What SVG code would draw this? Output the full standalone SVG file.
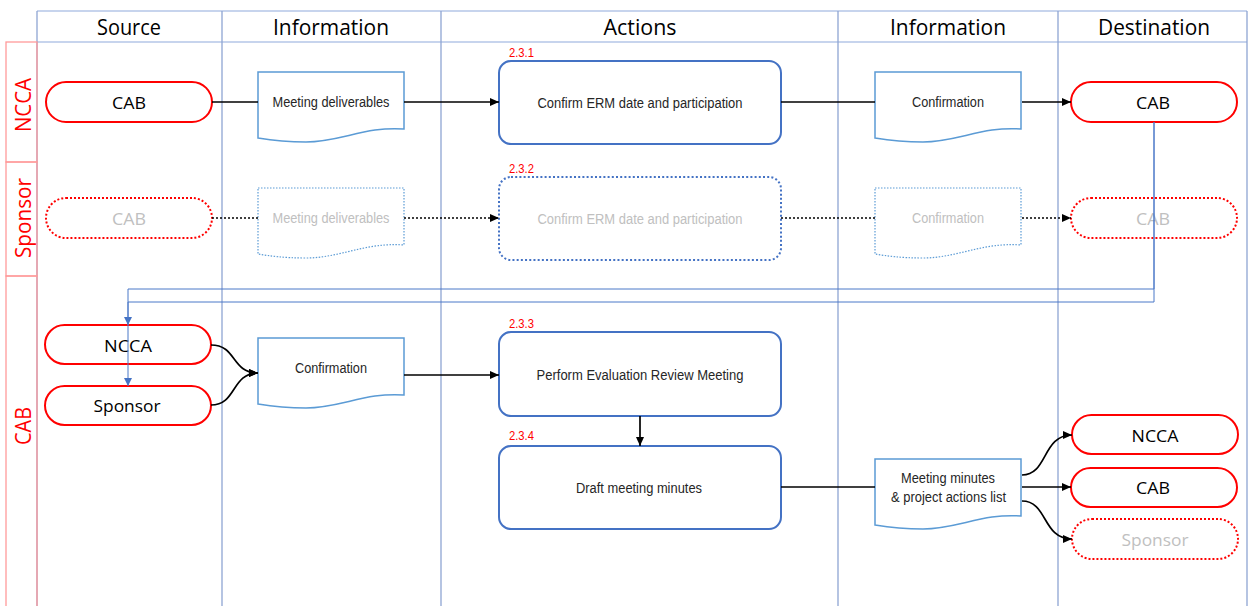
<svg xmlns="http://www.w3.org/2000/svg" xmlns:xlink="http://www.w3.org/1999/xlink" width="1253" height="606" viewBox="0 0 1253 606">
  <style>
    text { font-family: "Liberation Sans", Arial, sans-serif; }
    .hdr { font-family: "Open Sans", "Liberation Sans", sans-serif; font-size: 21px; fill: #000; text-anchor: middle; }
    .lane { font-family: "Open Sans", "Liberation Sans", sans-serif; font-size: 21px; fill: #ff0000; text-anchor: middle; }
    .grid { stroke: #8ea5d3; stroke-width: 1.3; fill: none; }
    .gridh { stroke: #b4c6e7; stroke-width: 1.3; fill: none; }
    .lanebox { fill: none; stroke: #ff9a9a; stroke-width: 1.3; }
    .term { fill: #fff; stroke: #ff0000; stroke-width: 2; }
    .term.dot { stroke-dasharray: 2 2; }
    .tt { font-family: "Open Sans", "Liberation Sans", sans-serif; font-size: 17px; fill: #000; text-anchor: middle; }
    .tt.dim, .bt.dim { fill: #c0c0c0; }
    .doc { fill: #fff; stroke: #5b9bd5; stroke-width: 1.5; }
    .doc.dot { stroke-width: 1.2; stroke-dasharray: 1.5 1.5; }
    .act { fill: #fff; stroke: #4472c4; stroke-width: 2; }
    .act.dot { stroke-dasharray: 2 2.2; }
    .bt { font-size: 14px; fill: #262626; text-anchor: middle; }
    .num { font-size: 12px; fill: #ff0000; }
    .con { fill: none; stroke: #000; stroke-width: 1.7; }
    .con.dot { stroke-dasharray: 2 2; }
    .fb { fill: none; stroke: #4a78c8; stroke-width: 1; }
  </style>
  <defs>
    <marker id="arr" markerUnits="userSpaceOnUse" markerWidth="10" markerHeight="8" refX="9" refY="4" orient="auto">
      <path d="M0,0 L9,4 L0,8 Z" fill="#000"/>
    </marker>
    <marker id="arrb" markerUnits="userSpaceOnUse" markerWidth="9" markerHeight="8" refX="8" refY="4" orient="auto">
      <path d="M0,0 L8,4 L0,8 Z" fill="#4472c4"/>
    </marker>
    <!-- document shape: flat top, wavy bottom edge -->
    <path id="docshape" d="M0,0 H146 V57 C108,54 82,70 48,70 C26,70 12,68 0,66 Z"/>
  </defs>

  <!-- swimlane grid -->
  <g id="grid">
    <line class="gridh" x1="37" y1="11" x2="1247" y2="11"/>
    <line class="gridh" x1="37" y1="42" x2="1247" y2="42"/>
    <line class="grid" x1="37" y1="11" x2="37" y2="606"/>
    <line class="grid" x1="222" y1="11" x2="222" y2="606"/>
    <line class="grid" x1="441" y1="11" x2="441" y2="606"/>
    <line class="grid" x1="838" y1="11" x2="838" y2="606"/>
    <line class="grid" x1="1058" y1="11" x2="1058" y2="606"/>
    <line class="grid" x1="1247" y1="11" x2="1247" y2="606"/>
    <text class="hdr" x="129" y="35" textLength="64" lengthAdjust="spacingAndGlyphs">Source</text>
    <text class="hdr" x="331" y="35" textLength="116" lengthAdjust="spacingAndGlyphs">Information</text>
    <text class="hdr" x="640" y="35" textLength="73" lengthAdjust="spacingAndGlyphs">Actions</text>
    <text class="hdr" x="948" y="35" textLength="116" lengthAdjust="spacingAndGlyphs">Information</text>
    <text class="hdr" x="1154" y="35" textLength="112" lengthAdjust="spacingAndGlyphs">Destination</text>
  </g>

  <!-- lane labels -->
  <g id="lanes">
    <rect class="lanebox" x="6" y="42" width="31" height="120"/>
    <rect class="lanebox" x="6" y="162" width="31" height="114"/>
    <rect class="lanebox" x="6" y="276" width="31" height="340"/>
    <text class="lane" x="31" y="105" transform="rotate(-90 31 105)" textLength="54" lengthAdjust="spacingAndGlyphs">NCCA</text>
    <text class="lane" x="31" y="218" transform="rotate(-90 31 218)" textLength="80" lengthAdjust="spacingAndGlyphs">Sponsor</text>
    <text class="lane" x="31" y="426" transform="rotate(-90 31 426)" textLength="38" lengthAdjust="spacingAndGlyphs">CAB</text>
  </g>

  <!-- NCCA lane -->
  <g id="ncca-src-cab">
    <rect class="term" x="46" y="82" width="166" height="40" rx="20"/>
    <text class="tt" x="129" y="108.5" textLength="34" lengthAdjust="spacingAndGlyphs">CAB</text>
  </g>
  <g id="ncca-info-deliverables">
    <use xlink:href="#docshape" class="doc" x="258" y="72"/>
    <text class="bt" x="331" y="107" textLength="117" lengthAdjust="spacingAndGlyphs">Meeting deliverables</text>
  </g>
  <g id="act-2-3-1">
    <text class="num" x="509" y="56.5" textLength="25" lengthAdjust="spacingAndGlyphs">2.3.1</text>
    <rect class="act" x="499" y="61" width="282" height="83" rx="12"/>
    <text class="bt" x="640" y="107.5" textLength="205" lengthAdjust="spacingAndGlyphs">Confirm ERM date and participation</text>
  </g>
  <g id="ncca-info-confirmation">
    <use xlink:href="#docshape" class="doc" x="875" y="72"/>
    <text class="bt" x="948" y="107" textLength="72" lengthAdjust="spacingAndGlyphs">Confirmation</text>
  </g>
  <g id="ncca-dst-cab">
    <rect class="term" x="1071" y="82" width="166" height="40" rx="20"/>
    <text class="tt" x="1153" y="108.5" textLength="34" lengthAdjust="spacingAndGlyphs">CAB</text>
  </g>

  <!-- Sponsor lane (optional path, dotted) -->
  <g id="sp-src-cab">
    <rect class="term dot" x="46" y="198" width="166" height="40" rx="20"/>
    <text class="tt dim" x="129" y="224.5" textLength="34" lengthAdjust="spacingAndGlyphs">CAB</text>
  </g>
  <g id="sp-info-deliverables">
    <use xlink:href="#docshape" class="doc dot" x="258" y="188"/>
    <text class="bt dim" x="331" y="223" textLength="117" lengthAdjust="spacingAndGlyphs">Meeting deliverables</text>
  </g>
  <g id="act-2-3-2">
    <text class="num" x="509" y="172.5" textLength="25" lengthAdjust="spacingAndGlyphs">2.3.2</text>
    <rect class="act dot" x="499" y="177" width="282" height="83" rx="12"/>
    <text class="bt dim" x="640" y="223.5" textLength="205" lengthAdjust="spacingAndGlyphs">Confirm ERM date and participation</text>
  </g>
  <g id="sp-info-confirmation">
    <use xlink:href="#docshape" class="doc dot" x="875" y="188"/>
    <text class="bt dim" x="948" y="223" textLength="72" lengthAdjust="spacingAndGlyphs">Confirmation</text>
  </g>
  <g id="sp-dst-cab">
    <rect class="term dot" x="1071" y="198" width="166" height="40" rx="20"/>
    <text class="tt dim" x="1153" y="224.5" textLength="34" lengthAdjust="spacingAndGlyphs">CAB</text>
  </g>

  <!-- CAB lane -->
  <g id="cab-src-ncca">
    <rect class="term" x="45" y="325" width="166" height="39" rx="19.5"/>
    <text class="tt" x="128" y="351.5" textLength="48" lengthAdjust="spacingAndGlyphs">NCCA</text>
  </g>
  <g id="cab-src-sponsor">
    <rect class="term" x="45" y="386" width="166" height="39" rx="19.5"/>
    <text class="tt" x="127" y="411.5" textLength="67" lengthAdjust="spacingAndGlyphs">Sponsor</text>
  </g>
  <g id="cab-info-confirmation">
    <use xlink:href="#docshape" class="doc" x="258" y="338"/>
    <text class="bt" x="331" y="372.5" textLength="72" lengthAdjust="spacingAndGlyphs">Confirmation</text>
  </g>
  <g id="act-2-3-3">
    <text class="num" x="509" y="327.5" textLength="25" lengthAdjust="spacingAndGlyphs">2.3.3</text>
    <rect class="act" x="499" y="332" width="282" height="84" rx="12"/>
    <text class="bt" x="640" y="379.5" textLength="207" lengthAdjust="spacingAndGlyphs">Perform Evaluation Review Meeting</text>
  </g>
  <g id="act-2-3-4">
    <text class="num" x="509" y="440" textLength="25" lengthAdjust="spacingAndGlyphs">2.3.4</text>
    <rect class="act" x="499" y="446" width="282" height="83" rx="12"/>
    <text class="bt" x="639" y="492.5" textLength="126" lengthAdjust="spacingAndGlyphs">Draft meeting minutes</text>
  </g>
  <g id="cab-info-minutes">
    <use xlink:href="#docshape" class="doc" x="875" y="459"/>
    <text class="bt" x="948" y="483" textLength="94" lengthAdjust="spacingAndGlyphs">Meeting minutes</text>
    <text class="bt" x="948.5" y="501.5" textLength="115" lengthAdjust="spacingAndGlyphs">&amp; project actions list</text>
  </g>
  <g id="cab-dst-ncca">
    <rect class="term" x="1072" y="415" width="166" height="39" rx="19.5"/>
    <text class="tt" x="1155" y="441.5" textLength="47" lengthAdjust="spacingAndGlyphs">NCCA</text>
  </g>
  <g id="cab-dst-cab">
    <rect class="term" x="1071" y="468" width="166" height="39" rx="19.5"/>
    <text class="tt" x="1153" y="494" textLength="34" lengthAdjust="spacingAndGlyphs">CAB</text>
  </g>
  <g id="cab-dst-sponsor">
    <rect class="term dot" x="1072" y="519" width="166" height="40" rx="20"/>
    <text class="tt dim" x="1155" y="545.5" textLength="67" lengthAdjust="spacingAndGlyphs">Sponsor</text>
  </g>

  <!-- connectors -->
  <g id="connectors">
    <path class="con" d="M212,102 H258"/>
    <path class="con" d="M404,102 H499" marker-end="url(#arr)"/>
    <path class="con" d="M781,102 H875"/>
    <path class="con" d="M1022,102 H1071" marker-end="url(#arr)"/>

    <path class="con dot" d="M212,218 H258"/>
    <path class="con dot" d="M404,218 H499" marker-end="url(#arr)"/>
    <path class="con dot" d="M781,218 H875"/>
    <path class="con dot" d="M1022,218 H1071" marker-end="url(#arr)"/>

    <path class="fb" d="M1154,122 V289 H128 V325" marker-end="url(#arrb)"/>
    <path class="fb" d="M1154,122 V302 H128 V386" marker-end="url(#arrb)"/>

    <path class="con" d="M211,345 C237,345 231,373 258,373" marker-end="url(#arr)"/>
    <path class="con" d="M211,405 C237,405 231,373 258,373" marker-end="url(#arr)"/>
    <path class="con" d="M404,375 H499" marker-end="url(#arr)"/>
    <path class="con" d="M640,416 V446" marker-end="url(#arr)"/>
    <path class="con" d="M781,487 H875"/>
    <path class="con" d="M1022,475 C1048,475 1042,435 1072,435" marker-end="url(#arr)"/>
    <path class="con" d="M1022,487 H1071" marker-end="url(#arr)"/>
    <path class="con" d="M1022,501 C1048,501 1042,539 1072,539" marker-end="url(#arr)"/>
  </g>
</svg>
